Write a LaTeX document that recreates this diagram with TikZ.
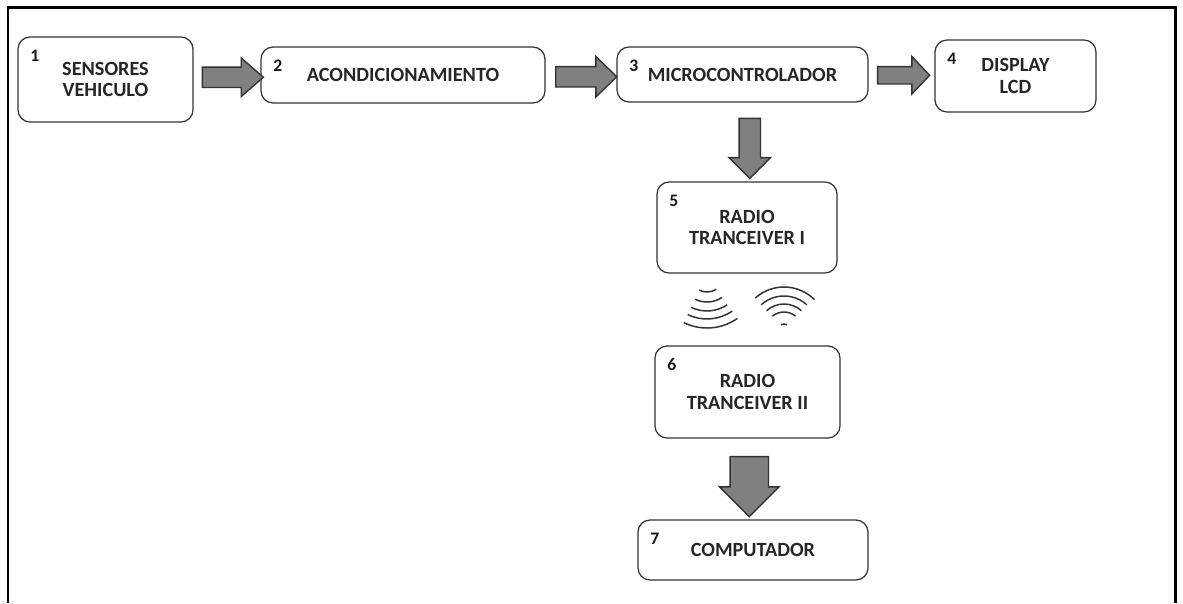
\documentclass[tikz,border=0pt]{standalone}
\usepackage{fontspec}
\setmainfont{Carlito}
\usetikzlibrary{shapes.arrows,calc}

\begin{document}
\begin{tikzpicture}[x=0.02cm,y=-0.02cm,
    block/.style={draw=black!80, line width=0.7pt, rounded corners=0.24cm, align=center, inner sep=0pt,
        font=\fontsize{11.5}{12.2}\selectfont\bfseries, text=black!85},
    numlabel/.style={anchor=center, xshift=0.35cm, yshift=-0.38cm, inner sep=0pt,
        font=\fontsize{10}{10}\selectfont\bfseries, text=black!90},
    blockarrow/.style={single arrow, draw=black!80, fill=black!50, line width=0.8pt},
    wave/.style={draw=black!80, line width=0.85pt}
    ]
    \useasboundingbox (0,0) rectangle (1183,603);
    % frame
    \draw[line width=1.7pt] (8,603) -- (8,7) -- (1175,7) -- (1175,603);

    \node [block, minimum width=3.5cm, minimum height=1.7cm, label={[numlabel]north west:1}] (sensores) at (105.5,79.5) {SENSORES\\VEHICULO};
    \node [block, minimum width=5.68cm, minimum height=1.12cm, label={[numlabel]north west:2}] (acond) at (403,75) {ACONDICIONAMIENTO};
    \node [block, minimum width=5.02cm, minimum height=1.1cm, label={[numlabel]north west:3}] (micro) at (742.5,74.5) {MICROCONTROLADOR};
    \node [block, minimum width=3.22cm, minimum height=1.44cm, label={[numlabel]north west:4}] (lcd) at (1015.5,76) {DISPLAY\\LCD};
    \node [block, minimum width=3.6cm, minimum height=1.82cm, label={[numlabel]north west:5}] (radio1) at (747,227.5) {RADIO\\TRANCEIVER I};
    \node [block, minimum width=3.7cm, minimum height=1.84cm, label={[numlabel]north west:6}] (radio2) at (747.5,392) {RADIO\\TRANCEIVER II};
    \node [block, minimum width=4.6cm, minimum height=1.2cm, label={[numlabel]north west:7}] (pc) at (753,550) {COMPUTADOR};

    % block arrows
    \node [blockarrow, minimum height=1.22cm, inner sep=0.19cm, single arrow head extend=0.18cm, single arrow tip angle=82] (a12) at ($(sensores.east)!.5!(acond.west)$) {};
    \node [blockarrow, minimum height=1.22cm, inner sep=0.19cm, single arrow head extend=0.2cm, single arrow tip angle=88] (a23) at ($(acond.east)!.5!(micro.west)+(0,2)$) {};
    \node [blockarrow, minimum height=1.04cm, inner sep=0.16cm, single arrow head extend=0.2cm, single arrow tip angle=93] (a34) at ($(micro.east)!.5!(lcd.west)+(-2,0)$) {};
    \node [blockarrow, minimum height=1.2cm, inner sep=0.2cm, single arrow head extend=0.2cm, shape border rotate=270] (a35) at ($(micro.south)!.5!(radio1.north)+(5,1)$) {};
    \node [blockarrow, minimum height=1.2cm, inner sep=0.37cm, single arrow head extend=0.21cm, shape border rotate=270] (a67) at ($(radio2.south)!.5!(pc.north)+(-1,-2)$) {};

    % radio waves
    \coordinate (wl) at (707,275);
    \coordinate (wr) at (784,330);
    \draw[wave] (wl) ++(57:17) arc[start angle=57, end angle=117, radius=17];
    \draw[wave] (wl) ++(56:27) arc[start angle=56, end angle=116, radius=27];
    \draw[wave] (wl) ++(56:36) arc[start angle=56, end angle=116, radius=36];
    \draw[wave] (wl) ++(55:44) arc[start angle=55, end angle=116, radius=44];
    \draw[wave] (wl) ++(55:53) arc[start angle=55, end angle=116, radius=53];
    \draw[wave] (wr) ++(228:43) arc[start angle=228, end angle=315, radius=43];
    \draw[wave] (wr) ++(228:34) arc[start angle=228, end angle=312, radius=34];
    \draw[wave] (wr) ++(228:26) arc[start angle=228, end angle=312, radius=26];
    \draw[wave] (wr) ++(230:18) arc[start angle=230, end angle=310, radius=18];
    \draw[wave] (wr) ++(240:6) arc[start angle=240, end angle=300, radius=6];
\end{tikzpicture}
\end{document}
